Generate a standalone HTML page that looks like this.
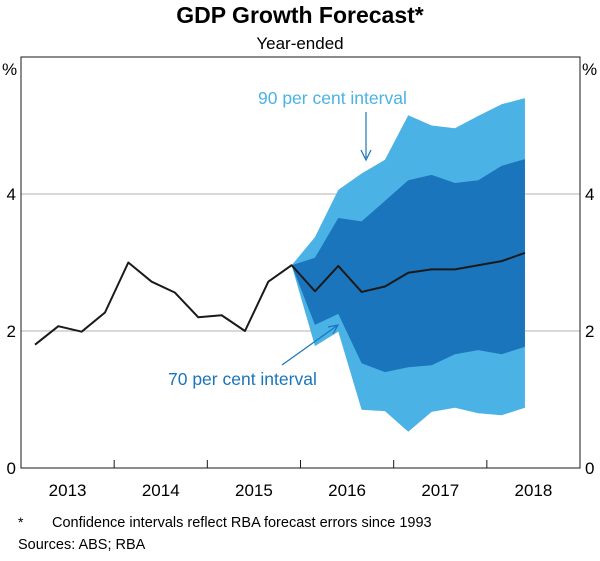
<!DOCTYPE html>
<html><head><meta charset="utf-8"><style>
body{margin:0;background:#fff;font-family:"Liberation Sans",Arial,sans-serif}
svg text{font-family:"Liberation Sans",Arial,sans-serif}
</style></head><body>
<svg id="c" width="600" height="556" viewBox="0 0 600 556">
<text x="300" y="23" text-anchor="middle" font-size="23" font-weight="bold">GDP Growth Forecast*</text>
<text x="300" y="49" text-anchor="middle" font-size="17">Year-ended</text>
<g id="plot"></g>
<text x="18" y="527" font-size="14">*</text>
<text x="52" y="527" font-size="14.5">Confidence intervals reflect RBA forecast errors since 1993</text>
<text x="18" y="549" font-size="14.5">Sources:   ABS; RBA</text>
</svg>
<script>
const years=["2013","2014","2015","2016","2017","2018"];
const yTicks=[0,2,4];
const actual=[1.8,2.07,1.99,2.27,3.0,2.72,2.56,2.2,2.23,2.0,2.72,2.96];
const forecast=[2.96,2.58,2.95,2.57,2.65,2.85,2.9,2.9,2.96,3.02,3.14];
const upper90=[2.96,3.37,4.06,4.3,4.5,5.15,5.0,4.96,5.14,5.31,5.4];
const lower90=[2.96,1.78,1.99,0.85,0.83,0.53,0.82,0.88,0.8,0.77,0.88];
const upper70=[2.96,3.07,3.65,3.6,3.9,4.2,4.28,4.16,4.2,4.41,4.51];
const lower70=[2.96,2.09,2.25,1.53,1.4,1.47,1.5,1.66,1.72,1.66,1.77];
const L=21,R=580,T=57,B=468;
const xs=i=>35+i*23.33;
const ys=v=>B-(v/6)*(B-T);
const g=document.getElementById('plot');
const NS='http://www.w3.org/2000/svg';
function mk(t,a){const e=document.createElementNS(NS,t);for(const k in a)e.setAttribute(k,a[k]);g.appendChild(e);return e;}
const f0=actual.length-1;
yTicks.forEach(v=>{if(v>0){const l=mk('line',{x1:L,x2:R,y1:ys(v),y2:ys(v),stroke:'#b3b3b3','stroke-width':1});

}
const a=mk('text',{x:L-5,y:ys(v)+6,'text-anchor':'end','font-size':17});a.textContent=v;


const b=mk('text',{x:R+5,y:ys(v)+6,'font-size':17});b.textContent=v;

});
function band(up,lo,col,name){let d='';up.forEach((v,i)=>{d+=(i?'L':'M')+xs(f0+i)+','+ys(v);});
for(let i=lo.length-1;i>=0;i--)d+='L'+xs(f0+i)+','+ys(lo[i]);
const p=mk('path',{d:d+'Z',fill:col});

}
band(upper90,lower90,'#4bb2e5','interval-90');
band(upper70,lower70,'#1a75bc','interval-70');
let d='';actual.forEach((v,i)=>{d+=(i?'L':'M')+xs(i)+','+ys(v);});
forecast.forEach((v,i)=>{d+='L'+xs(f0+i)+','+ys(v);});
const ln=mk('path',{d:d,fill:'none',stroke:'#1a1a1a','stroke-width':2,'stroke-linejoin':'round'});


const fr=mk('rect',{x:L,y:T,width:R-L,height:B-T,fill:'none',stroke:'#1a1a1a','stroke-width':1});


const yw=(R-L)/years.length;
years.forEach((y,i)=>{if(i>0){const t=mk('line',{x1:L+i*yw,x2:L+i*yw,y1:B-8,y2:B,stroke:'#1a1a1a'});

}
const tx=mk('text',{x:L+(i+0.5)*yw,y:B+28,'text-anchor':'middle','font-size':17});tx.textContent=y;

});
const p1=mk('text',{x:2,y:75,'font-size':17});p1.textContent='%';


const p2=mk('text',{x:582,y:75,'font-size':17});p2.textContent='%';


const a90=mk('text',{x:258,y:104,'font-size':17.5,fill:'#4bb2e5'});a90.textContent='90 per cent interval';


const ar1=mk('path',{d:'M366,112 L366,158 M361,150 L366,160 L371,150',stroke:'#1a75bc',fill:'none','stroke-width':1.2});


const a70=mk('text',{x:168,y:385,'font-size':17.5,fill:'#1a75bc'});a70.textContent='70 per cent interval';


const ar2=mk('path',{d:'M282,365 L338,325 M328,327 L338,325 L333,334',stroke:'#1a75bc',fill:'none','stroke-width':1.2});


</script>
</body></html>
